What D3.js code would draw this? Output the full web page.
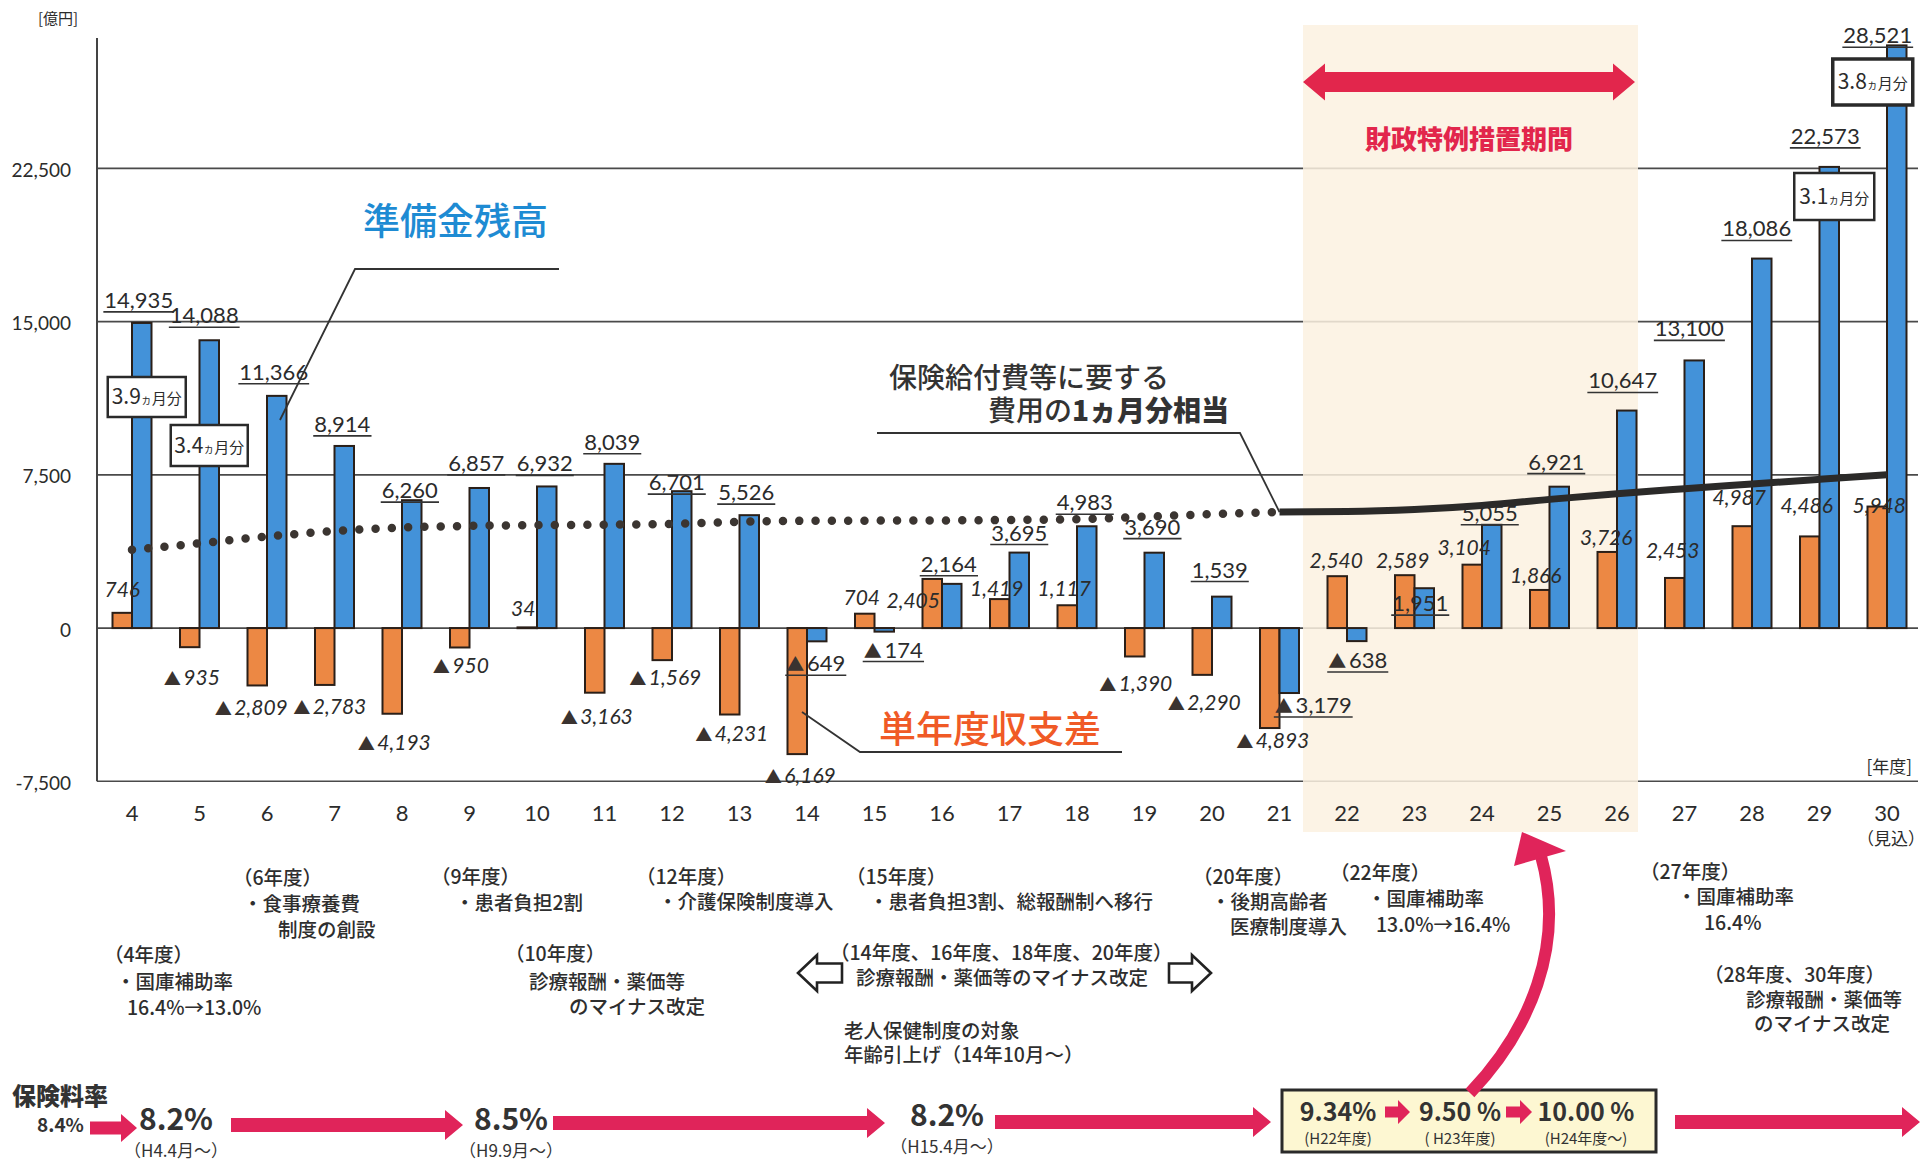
<!DOCTYPE html>
<html lang="ja">
<head>
<meta charset="utf-8">
<script src="https://cdn.jsdelivr.net/npm/d3@7"></script>
<style>
  html, body { margin: 0; padding: 0; background: #ffffff; }
  svg { display: block; }
  text { font-family: Lato, "Noto Sans CJK JP", sans-serif; fill: #2b2b2b; }
  .jp { font-family: "Noto Sans CJK JP", sans-serif; }
</style>
</head>
<body>
<svg id="chart" width="1932" height="1167"></svg>
<script>
// ---- data (億円) ----
const years = [4,5,6,7,8,9,10,11,12,13,14,15,16,17,18,19,20,21,22,23,24,25,26,27,28,29,30];
// 準備金残高
const reserve = [14935,14088,11366,8914,6260,6857,6932,8039,6701,5526,-649,-174,2164,3695,4983,3690,1539,-3179,-638,1951,5055,6921,10647,13100,18086,22573,28521];
// 単年度収支差
const balance = [746,-935,-2809,-2783,-4193,-950,34,-3163,-1569,-4231,-6169,704,2405,1419,1117,-1390,-2290,-4893,2540,2589,3104,1866,3726,2453,4987,4486,5948];
// 保険給付費等に要する費用の1ヵ月分相当
const monthYearsA = [4,5,6,7,8,9,10,11,12,13,14,15,16,17,18,19,20,21];
const monthValuesA = [3830,4150,4480,4750,4920,5000,5040,5060,5100,5200,5250,5260,5270,5290,5330,5450,5580,5680];
const monthYearsB = [21,22,23,24,25,26,27,28,29,30];
const monthValuesB = [5680,5700,5800,6000,6300,6580,6820,7050,7280,7510];
const yTicks = [-7500, 0, 7500, 15000, 22500];
// 準備金残高が何ヵ月分に当たるか
const monthBoxYears = [4, 5, 29, 30];
const monthBoxLabels = ["3.9", "3.4", "3.1", "3.8"];
// 保険料率の推移
const rateLabels = ["8.2%", "8.5%", "8.2%"];
const rateSince = ["（H4.4月～）", "（H9.9月～）", "（H15.4月～）"];
const boxRates = ["9.34%", "9.50 %", "10.00 %"];
const boxSince = ["(H22年度)", "( H23年度)", "(H24年度～)"];

// ---- layout ----
const svg = d3.select("#chart");
const BW = 19.5;
const x = d3.scaleBand().domain(years).range([98.25, 98.25 + 27 * 67.5]);
const cx = yr => x(yr) + x.bandwidth() / 2;
const y = d3.scaleLinear().domain([-7500, 22500]).range([781.3, 168.4]);
const AX_LEFT = 97, AX_RIGHT = 1918, AX_TOP = 38;

const BLUE = "#4392d9", ORANGE = "#ec8844", EDGE = "#2a1f18";
const RED = "#e2264c", PINK = "#e0245a";

// label nudges [dx, dy] relative to each bar end
const blueNudge = {4:[-3,-23],5:[-5,-25],6:[-3,-24],7:[-2,-22],8:[-2,-10],9:[-3,-25],10:[-2,-23],11:[-2,-22],12:[-5,-9],13:[-3,-23],14:[-1,22],15:[9,18],16:[-3,-20],17:[0,-20],18:[-2,-24],19:[-2,-26],20:[-2,-27],21:[24,12],22:[1,19],23:[-4,15],24:[-2,-12],25:[-3,-25],26:[-4,-30],27:[-5,-32],28:[-5,-30],29:[-4,-31],30:[-19,-10]};
const orangeNudge = {4:[0,-23],5:[2,30],6:[-6,22],7:[5,22],8:[2,29],9:[1,18],10:[-4,-19],11:[2,24],12:[3,17],13:[2,19],14:[3,21],15:[-3,-16],16:[-19,21],17:[-3,-11],18:[-3,-17],19:[1,27],20:[2,28],21:[3,12],22:[-1,-16],23:[-2,-15],24:[-8,-17],25:[-4,-15],26:[-1,-15],27:[-2,-28],28:[-3,-29],29:[-3,-31],30:[2,-1]};

const fmt = d3.format(",");

// ---- gridlines & axis ----
const gGrid = svg.append("g");
gGrid.selectAll("line").data(yTicks).join("line")
  .attr("x1", AX_LEFT).attr("x2", AX_RIGHT)
  .attr("y1", d => y(d)).attr("y2", d => y(d))
  .attr("stroke", "#4a4a4a").attr("stroke-width", 1.6);

// 財政特例措置期間 shading
const shadeL = cx(22) - 44, shadeR = cx(26) + 21;
svg.append("rect").attr("x", shadeL).attr("y", 25)
  .attr("width", shadeR - shadeL).attr("height", 807)
  .attr("fill", "#fcf1e0").attr("opacity", 0.85);

svg.append("line").attr("x1", AX_LEFT).attr("x2", AX_LEFT)
  .attr("y1", AX_TOP).attr("y2", y(-7500))
  .attr("stroke", "#444").attr("stroke-width", 2);

const yAxis = d3.axisLeft(y).tickValues(yTicks).tickSize(0).tickPadding(0)
  .tickFormat(d => fmt(d).replace("\u2212", "-"));
const gy = svg.append("g").attr("transform", "translate(71,2)").call(yAxis);
gy.select(".domain").remove();
gy.selectAll("text").attr("font-size", 19).attr("font-family", "Lato, sans-serif").attr("fill", "#333");

svg.append("text").attr("class", "jp").attr("x", 58).attr("y", 17)
  .attr("text-anchor", "middle").attr("dominant-baseline", "central")
  .attr("font-size", 15).text("[億円]");

const xAxis = d3.axisBottom(x).tickSize(0).tickPadding(0);
const gx = svg.append("g").attr("transform", "translate(0,805)").call(xAxis);
gx.select(".domain").remove();
gx.selectAll("text").attr("font-size", 22).attr("font-family", "Lato, sans-serif").attr("fill", "#333");

svg.append("text").attr("class", "jp").attr("x", 1912).attr("y", 765)
  .attr("text-anchor", "end").attr("dominant-baseline", "central")
  .attr("font-size", 17).text("[年度]");
svg.append("text").attr("class", "jp").attr("x", 1891).attr("y", 837)
  .attr("text-anchor", "middle").attr("dominant-baseline", "central")
  .attr("font-size", 17).text("（見込）");

// ---- bars ----
const rows = years.map((yr, i) => ({ yr, r: reserve[i], b: balance[i] }));
const barY = v => Math.min(y(v), y(0));
const barH = v => Math.max(Math.abs(y(v) - y(0)), 0.8);

svg.append("g").selectAll("rect").data(rows).join("rect")
  .attr("x", d => cx(d.yr) - BW).attr("width", BW)
  .attr("y", d => barY(d.b)).attr("height", d => barH(d.b))
  .attr("fill", ORANGE).attr("stroke", EDGE).attr("stroke-width", 2);

svg.append("g").selectAll("rect").data(rows).join("rect")
  .attr("x", d => cx(d.yr)).attr("width", BW)
  .attr("y", d => barY(d.r)).attr("height", d => barH(d.r))
  .attr("fill", BLUE).attr("stroke", EDGE).attr("stroke-width", 2);

// ---- 1ヵ月分相当 line ----
const lineA = d3.line().x(d => cx(d[0])).y(d => y(d[1])).curve(d3.curveMonotoneX);
svg.append("path").datum(monthYearsA.map((yr, i) => [yr, monthValuesA[i]]))
  .attr("d", lineA).attr("fill", "none").attr("stroke", "#3b3531")
  .attr("stroke-width", 8.5).attr("stroke-linecap", "round").attr("stroke-dasharray", "0 16.3");
svg.append("path").datum(monthYearsB.map((yr, i) => [yr, monthValuesB[i]]))
  .attr("d", lineA).attr("fill", "none").attr("stroke", "#2b2a29")
  .attr("stroke-width", 7).attr("stroke-linecap", "butt");

// ---- value labels ----
function addLabel(g, v, px, pyCenter, opts) {
  const fs = opts.size;
  const t = g.append("text").attr("x", px).attr("y", pyCenter + fs * 0.36)
    .attr("text-anchor", "middle").attr("font-size", fs);
  if (v < 0) {
    t.append("tspan").attr("font-family", "'Noto Sans CJK JP', sans-serif")
      .attr("font-size", fs * 0.82).attr("fill", "#3a3330").attr("font-style", "normal").text("▲");
    t.append("tspan").text("\u2009" + fmt(-v)).attr("font-style", opts.italic ? "italic" : "normal");
  } else {
    t.append("tspan").text(fmt(v)).attr("font-style", opts.italic ? "italic" : "normal");
  }
  if (opts.underline) {
    const bb = t.node().getBBox();
    const uy = pyCenter + fs * 0.36 + 4;
    g.append("line").attr("x1", bb.x - 1).attr("x2", bb.x + bb.width + 1)
      .attr("y1", uy).attr("y2", uy).attr("stroke", "#333").attr("stroke-width", 1.6);
  }
}
const gLab = svg.append("g");
rows.forEach(d => {
  const nb = blueNudge[d.yr];
  addLabel(gLab, d.r, cx(d.yr) + BW / 2 + nb[0], y(d.r) + nb[1], { size: 22, underline: true, italic: false });
  const no = orangeNudge[d.yr];
  addLabel(gLab, d.b, cx(d.yr) - BW / 2 + no[0], y(d.b) + no[1], { size: 21, underline: false, italic: true });
});

// ---- month boxes ----
const boxGeo = { 4: [5, 377, 78, 40], 5: [0, 425, 77, 41], 29: [5, 173, 80, 47], 30: [-24, 59, 80, 46] };
monthBoxYears.forEach((yr, i) => {
  const [dx, top, w, h] = boxGeo[yr];
  const mx = cx(yr) + BW / 2 + dx;
  const g = svg.append("g");
  g.append("rect").attr("x", mx - w / 2).attr("y", top).attr("width", w).attr("height", h)
    .attr("fill", "#fff").attr("stroke", "#2a2a2a").attr("stroke-width", yr === 30 ? 3.5 : 2.5);
  const t = g.append("text").attr("x", mx).attr("y", top + h / 2 + 7).attr("text-anchor", "middle");
  t.append("tspan").attr("font-size", 21).attr("font-family", "'Noto Sans CJK JP', sans-serif").text(monthBoxLabels[i]);
  t.append("tspan").attr("font-size", 11).attr("font-family", "'Noto Sans CJK JP', sans-serif").text("ヵ");
  t.append("tspan").attr("font-size", 15).attr("font-family", "'Noto Sans CJK JP', sans-serif").text("月分");
});

// ---- multi-line text blocks: lines = [text, x, centerY, weight?] ----
function textBlock(lines, fs, fill, weight) {
  const t = svg.append("text").attr("class", "jp").attr("font-size", fs)
    .attr("font-weight", weight).style("fill", fill);
  lines.forEach(l => {
    const s = t.append("tspan").attr("x", l[1]).attr("y", l[2] + fs * 0.35);
    if (Array.isArray(l[0])) {
      l[0].forEach(part => s.append("tspan").attr("font-weight", part[1]).text(part[0]));
    } else {
      s.text(l[0]);
    }
  });
  return t;
}

// ---- callouts ----
const lead = (pts) => svg.append("path").attr("d", d3.line()(pts))
  .attr("fill", "none").attr("stroke", "#333").attr("stroke-width", 1.8);

textBlock([["準備金残高", 363, 222]], 37, "#1e8bd3", 500);
lead([[559, 269], [355, 269], [280, 420]]);

textBlock([
  ["保険給付費等に要する", 889, 378],
  [[["費用の", 500], ["1ヵ月分相当", 900]], 988, 411]
], 28, "#333", 500);
lead([[877, 433], [1240, 433], [cx(21), y(monthValuesB[0])]]);

textBlock([["単年度収支差", 879, 730]], 37, "#f05a26", 500);
lead([[cx(14) - 5, 712], [860, 752], [1122, 752]]);

// 財政特例措置期間
const aL = shadeL, aR = shadeR - 3, ay = 82;
svg.append("polygon").attr("points", [
  [aL, ay], [aL + 22, ay - 18.5], [aL + 22, ay - 10], [aR - 22, ay - 10], [aR - 22, ay - 18.5],
  [aR, ay], [aR - 22, ay + 18.5], [aR - 22, ay + 10], [aL + 22, ay + 10], [aL + 22, ay + 18.5]
].map(p => p.join(",")).join(" ")).attr("fill", RED);
svg.append("text").attr("class", "jp").attr("x", (aL + aR) / 2).attr("y", 137)
  .attr("text-anchor", "middle").attr("dominant-baseline", "central")
  .attr("font-size", 26).attr("font-weight", 900).style("fill", RED).text("財政特例措置期間");

// ---- 制度改正の注記 ----
const noteBlocks = [
  [["（6年度）", 233, 878], ["・食事療養費", 243, 904], ["制度の創設", 278, 930]],
  [["（9年度）", 431, 877], ["・患者負担2割", 455, 903]],
  [["（4年度）", 104, 955], ["・国庫補助率", 116, 982], ["16.4%→13.0%", 127, 1008]],
  [["（10年度）", 505, 954], ["診療報酬・薬価等", 529, 982], ["のマイナス改定", 569, 1007]],
  [["（12年度）", 636, 877], ["・介護保険制度導入", 658, 902]],
  [["（15年度）", 846, 877], ["・患者負担3割、総報酬制へ移行", 869, 902]],
  [["（20年度）", 1193, 877], ["・後期高齢者", 1211, 902], ["医療制度導入", 1230, 927]],
  [["（14年度、16年度、18年度、20年度）", 830, 953], ["診療報酬・薬価等のマイナス改定", 856, 978]],
  [["老人保健制度の対象", 844, 1031], ["年齢引上げ（14年10月～）", 844, 1055]],
  [["（22年度）", 1330, 873], ["・国庫補助率", 1367, 899], ["13.0%→16.4%", 1376, 925]],
  [["（27年度）", 1640, 872], ["・国庫補助率", 1677, 897], ["16.4%", 1704, 923]],
  [["（28年度、30年度）", 1704, 975], ["診療報酬・薬価等", 1746, 1000], ["のマイナス改定", 1754, 1024]]
];
noteBlocks.forEach(b => textBlock(b, 19.5, "#2e2e2e", 500));

// hollow arrows around the 診療報酬 note
const hollow = (tipX, backX, yc, dir) => {
  const headEnd = tipX + dir * 19;
  svg.append("polygon").attr("points", [
    [tipX, yc], [headEnd, yc - 18], [headEnd, yc - 9.5], [backX, yc - 9.5],
    [backX, yc + 9.5], [headEnd, yc + 9.5], [headEnd, yc + 18]
  ].map(p => p.join(",")).join(" "))
    .attr("fill", "#fff").attr("stroke", "#222").attr("stroke-width", 2.6).attr("stroke-linejoin", "miter");
};
hollow(798, 842, 973, 1);
hollow(1211, 1169, 973, -1);

// ---- 保険料率 ----
const arrow = (x1, x2, yc, sh = 14, hh = 30, hl = 18, col = PINK) => {
  svg.append("polygon").attr("points", [
    [x1, yc - sh / 2], [x2 - hl, yc - sh / 2], [x2 - hl, yc - hh / 2], [x2, yc],
    [x2 - hl, yc + hh / 2], [x2 - hl, yc + sh / 2], [x1, yc + sh / 2]
  ].map(p => p.join(",")).join(" ")).attr("fill", col);
};
textBlock([["保険料率", 12, 1097]], 24, "#333", 900);
textBlock([["8.4%", 37, 1125]], 19, "#333", 700);
arrow(90, 137, 1128, 13, 28, 16);
arrow(231, 463, 1125);
arrow(553, 885, 1123);
arrow(995, 1271, 1122);
arrow(1675, 1920, 1122);

const rateX = [176, 511, 947];
const rateY = [1117, 1117, 1113];
rateLabels.forEach((r, i) => {
  svg.append("text").attr("class", "jp").attr("x", rateX[i]).attr("y", rateY[i])
    .attr("text-anchor", "middle").attr("dominant-baseline", "central")
    .attr("font-size", 30).attr("font-weight", 700).style("fill", "#333").text(r);
  svg.append("text").attr("class", "jp").attr("x", rateX[i]).attr("y", rateY[i] + 32)
    .attr("text-anchor", "middle").attr("dominant-baseline", "central")
    .attr("font-size", 17).style("fill", "#333").text(rateSince[i]);
});

// 財政特例期間の料率ボックス
svg.append("rect").attr("x", 1282).attr("y", 1090).attr("width", 374).attr("height", 62)
  .attr("fill", "#fdf7d2").attr("stroke", "#2a2a2a").attr("stroke-width", 3);
const bx = [1338, 1460, 1586];
boxRates.forEach((r, i) => {
  svg.append("text").attr("class", "jp").attr("x", bx[i]).attr("y", 1110)
    .attr("text-anchor", "middle").attr("dominant-baseline", "central")
    .attr("font-size", 25).attr("font-weight", 700).style("fill", "#333").text(r);
  svg.append("text").attr("class", "jp").attr("x", bx[i]).attr("y", 1137)
    .attr("text-anchor", "middle").attr("dominant-baseline", "central")
    .attr("font-size", 15).style("fill", "#333").text(boxSince[i]);
});
arrow(1385, 1410, 1112, 11, 24, 12);
arrow(1506, 1532, 1112, 11, 24, 12);

// 料率引上げ → 財政特例措置への曲線矢印
svg.append("path").attr("d", "M1470,1093 C1530,1030 1566,945 1541,856")
  .attr("fill", "none").attr("stroke", PINK).attr("stroke-width", 12);
svg.append("polygon").attr("points", "1522,832 1514,866 1566,851").attr("fill", PINK);
</script>
</body>
</html>
